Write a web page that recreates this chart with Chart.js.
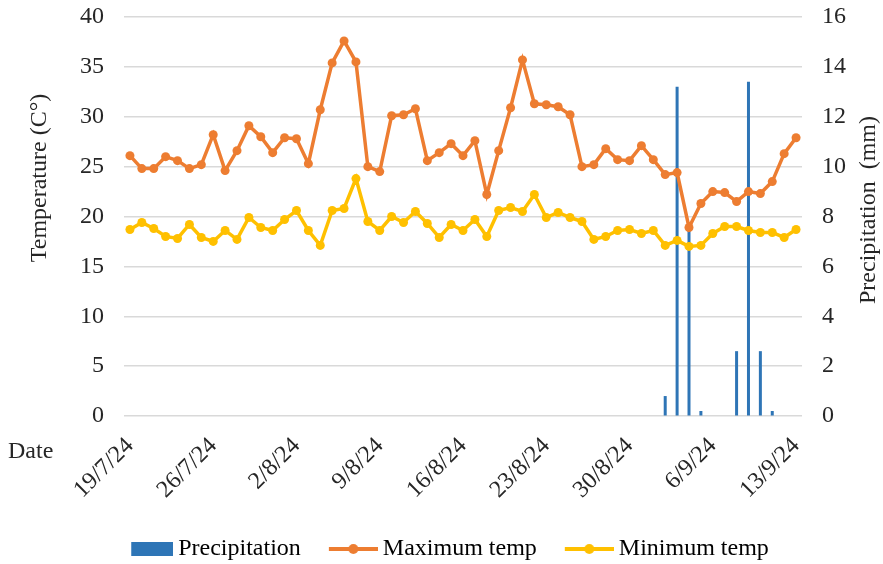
<!DOCTYPE html>
<html>
<head>
<meta charset="utf-8">
<script src="https://cdn.jsdelivr.net/npm/chart.js@4.4.1/dist/chart.umd.min.js"></script>
<style>
  html, body { margin: 0; padding: 0; background: #ffffff; }
  #wrap { width: 883px; height: 564px; position: relative; }
</style>
</head>
<body>
<div id="wrap"><canvas id="chart" width="883" height="564"></canvas></div>
<script>
// Daily record, 19 July to 13 September 2024
const dates = [
  '19/7/24','20/7/24','21/7/24','22/7/24','23/7/24','24/7/24','25/7/24','26/7/24','27/7/24','28/7/24',
  '29/7/24','30/7/24','31/7/24','1/8/24','2/8/24','3/8/24','4/8/24','5/8/24','6/8/24','7/8/24',
  '8/8/24','9/8/24','10/8/24','11/8/24','12/8/24','13/8/24','14/8/24','15/8/24','16/8/24','17/8/24',
  '18/8/24','19/8/24','20/8/24','21/8/24','22/8/24','23/8/24','24/8/24','25/8/24','26/8/24','27/8/24',
  '28/8/24','29/8/24','30/8/24','31/8/24','1/9/24','2/9/24','3/9/24','4/9/24','5/9/24','6/9/24',
  '7/9/24','8/9/24','9/9/24','10/9/24','11/9/24','12/9/24','13/9/24'
];

// Dates that carry a label on the horizontal axis
const labelledDates = ['19/7/24','26/7/24','2/8/24','9/8/24','16/8/24','23/8/24','30/8/24','6/9/24','13/9/24'];

// Maximum daily temperature (°C)
const maxTemp = [
  26.1, 24.8, 24.8, 26.0, 25.6, 24.8, 25.2, 28.2, 24.6, 26.6,
  29.1, 28.0, 26.4, 27.9, 27.8, 25.3, 30.7, 35.4, 37.6, 35.5,
  25.0, 24.5, 30.1, 30.2, 30.8, 25.6, 26.4, 27.3, 26.1, 27.6,
  22.2, 26.6, 30.9, 35.7, 31.3, 31.2, 31.0, 30.2, 25.0, 25.2,
  26.8, 25.7, 25.6, 27.1, 25.7, 24.2, 24.4, 18.9, 21.3, 22.5,
  22.4, 21.5, 22.5, 22.3, 23.5, 26.3, 27.9
];

// Minimum daily temperature (°C)
const minTemp = [
  18.7, 19.4, 18.8, 18.0, 17.8, 19.2, 17.9, 17.5, 18.6, 17.7,
  19.9, 18.9, 18.6, 19.7, 20.6, 18.6, 17.1, 20.6, 20.8, 23.8,
  19.5, 18.6, 20.0, 19.4, 20.5, 19.3, 17.9, 19.2, 18.6, 19.7,
  18.0, 20.6, 20.9, 20.5, 22.2, 19.9, 20.4, 19.9, 19.5, 17.7,
  18.0, 18.6, 18.7, 18.3, 18.6, 17.1, 17.6, 17.0, 17.1, 18.3,
  19.0, 19.0, 18.6, 18.4, 18.4, 17.9, 18.7
];

// Daily precipitation (mm)
const precipitation = [
  0, 0, 0, 0, 0, 0, 0, 0, 0, 0,
  0, 0, 0, 0, 0, 0, 0, 0, 0, 0,
  0, 0, 0, 0, 0, 0, 0, 0, 0, 0,
  0, 0, 0, 0, 0, 0, 0, 0, 0, 0,
  0, 0, 0, 0, 0, 0.8, 13.2, 7.5, 0.2, 0,
  0, 2.6, 13.4, 2.6, 0.2, 0, 0
];

const serif = '"Liberation Serif", "Times New Roman", serif';
const fontSize = 24;
const textColor = '#262626';
const gridColor = '#d9d9d9';
const blue = '#2E75B6';
const orange = '#ED7D31';
const yellow = '#FFC000';

// Legend swatches: content sits at the right of a 50px canvas so the
// label text follows it closely
function boxSwatch(color) {
  const c = document.createElement('canvas');
  c.width = 50; c.height = 14;
  const g = c.getContext('2d');
  g.fillStyle = color;
  g.fillRect(8, 0, 42, 14);
  return c;
}
function lineSwatch(color) {
  const c = document.createElement('canvas');
  c.width = 50; c.height = 12;
  const g = c.getContext('2d');
  g.strokeStyle = color;
  g.lineWidth = 4;
  g.beginPath(); g.moveTo(1, 6); g.lineTo(50, 6); g.stroke();
  g.fillStyle = color;
  g.beginPath(); g.arc(25.5, 6, 5, 0, Math.PI * 2); g.fill();
  return c;
}

// Vertical axes keep their label spacing without pushing the plot down
function fitVertical(width) {
  return function (scale) {
    scale.width = width;
    scale.paddingTop = 0;
    scale.paddingBottom = 0;
  };
}

// Axis titles and the "Date" caption
const captions = {
  id: 'captions',
  afterDraw(chart) {
    const ctx = chart.ctx;
    ctx.save();
    ctx.fillStyle = textColor;
    ctx.font = fontSize + 'px ' + serif;
    ctx.textAlign = 'center';
    ctx.textBaseline = 'middle';

    ctx.save();
    ctx.translate(40, 178);
    ctx.rotate(-Math.PI / 2);
    ctx.fillText('Temperature (C°)', 0, 0);
    ctx.restore();

    ctx.save();
    ctx.translate(869, 210);
    ctx.rotate(-Math.PI / 2);
    ctx.fillText('Precipitation  (mm)', 0, 0);
    ctx.restore();

    ctx.textAlign = 'left';
    ctx.fillText('Date', 8, 452);
    ctx.restore();
  }
};

new Chart(document.getElementById('chart'), {
  type: 'bar',
  data: {
    labels: dates,
    datasets: [
      {
        type: 'line',
        label: 'Maximum temp',
        data: maxTemp,
        yAxisID: 'y',
        borderColor: orange,
        backgroundColor: orange,
        borderWidth: 3.5,
        pointRadius: 4.5,
        pointBackgroundColor: orange,
        pointBorderWidth: 0,
        tension: 0
      },
      {
        type: 'line',
        label: 'Minimum temp',
        data: minTemp,
        yAxisID: 'y',
        borderColor: yellow,
        backgroundColor: yellow,
        borderWidth: 3.5,
        pointRadius: 4.5,
        pointBackgroundColor: yellow,
        pointBorderWidth: 0,
        tension: 0
      },
      {
        type: 'bar',
        label: 'Precipitation',
        data: precipitation,
        yAxisID: 'y1',
        backgroundColor: blue,
        borderWidth: 0,
        inflateAmount: 0,
        barThickness: 3
      }
    ]
  },
  options: {
    responsive: false,
    animation: false,
    events: [],
    layout: { padding: { top: 17, bottom: -7, left: 16, right: 0 } },
    plugins: {
      tooltip: { enabled: false },
      legend: {
        position: 'bottom',
        labels: {
          usePointStyle: true,
          pointStyleWidth: 36,
          padding: 34,
          color: textColor,
          font: { family: serif, size: fontSize },
          generateLabels() {
            return [
              { text: 'Precipitation', pointStyle: boxSwatch(blue), fillStyle: blue, strokeStyle: blue, lineWidth: 0, datasetIndex: 2, hidden: false },
              { text: 'Maximum temp', pointStyle: lineSwatch(orange), fillStyle: orange, strokeStyle: orange, lineWidth: 0, datasetIndex: 0, hidden: false },
              { text: 'Minimum temp', pointStyle: lineSwatch(yellow), fillStyle: yellow, strokeStyle: yellow, lineWidth: 0, datasetIndex: 1, hidden: false }
            ];
          }
        }
      }
    },
    scales: {
      x: {
        offset: true,
        grid: { display: false },
        border: { display: false },
        ticks: {
          autoSkip: false,
          minRotation: 45,
          maxRotation: 45,
          padding: 8,
          color: textColor,
          font: { family: serif, size: fontSize },
          callback(value) {
            const d = this.getLabelForValue(value);
            return labelledDates.includes(d) ? d : '';
          }
        },
        afterFit(scale) { scale.height = 87; }
      },
      y: {
        position: 'left',
        min: 0,
        max: 40,
        ticks: { stepSize: 5, padding: 20, color: textColor, font: { family: serif, size: fontSize } },
        grid: { color: gridColor, lineWidth: 1.5, drawTicks: false },
        border: { display: false },
        afterFit: fitVertical(108)
      },
      y1: {
        position: 'right',
        min: 0,
        max: 16,
        ticks: { stepSize: 2, padding: 20, color: textColor, font: { family: serif, size: fontSize } },
        grid: { drawOnChartArea: false, drawTicks: false },
        border: { display: false },
        afterFit: fitVertical(81)
      }
    }
  },
  plugins: [captions]
});
</script>
</body>
</html>
